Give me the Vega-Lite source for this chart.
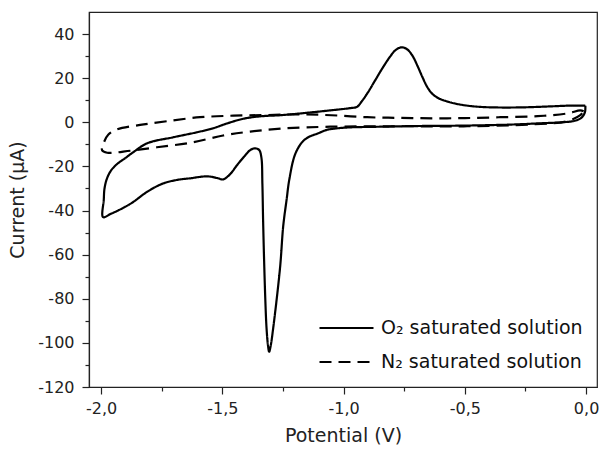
{
  "$schema": "https://vega.github.io/schema/vega-lite/v6.json",
  "width": 508,
  "height": 375,
  "autosize": "none",
  "padding": {"left": 89, "top": 12, "right": 2, "bottom": 63},
  "background": "white",
  "config": {
    "font": "DejaVu Sans",
    "view": {"stroke": "#222", "strokeWidth": 1.2},
    "axis": {"domainColor": "#222", "tickColor": "#222", "labelColor": "#222", "titleColor": "#222", "grid": false, "labelFontSize": 16, "titleFontSize": 19, "titleFontWeight": "normal", "domainWidth": 1.2, "tickWidth": 1.2}
  },
  "datasets": {
    "cv": [
      {"s": "O₂ saturated solution", "i": 1, "E": -0.003, "I": 7.5},
      {"s": "O₂ saturated solution", "i": 2, "E": -0.05, "I": 7.6},
      {"s": "O₂ saturated solution", "i": 3, "E": -0.15, "I": 7.2},
      {"s": "O₂ saturated solution", "i": 4, "E": -0.25, "I": 6.8},
      {"s": "O₂ saturated solution", "i": 5, "E": -0.35, "I": 6.7},
      {"s": "O₂ saturated solution", "i": 6, "E": -0.44, "I": 7.0},
      {"s": "O₂ saturated solution", "i": 7, "E": -0.5, "I": 7.7},
      {"s": "O₂ saturated solution", "i": 8, "E": -0.54, "I": 8.5},
      {"s": "O₂ saturated solution", "i": 9, "E": -0.58, "I": 9.7},
      {"s": "O₂ saturated solution", "i": 10, "E": -0.61, "I": 11.0},
      {"s": "O₂ saturated solution", "i": 11, "E": -0.635, "I": 13.0},
      {"s": "O₂ saturated solution", "i": 12, "E": -0.655, "I": 16.0},
      {"s": "O₂ saturated solution", "i": 13, "E": -0.675, "I": 20.5},
      {"s": "O₂ saturated solution", "i": 14, "E": -0.695, "I": 25.5},
      {"s": "O₂ saturated solution", "i": 15, "E": -0.715, "I": 30.0},
      {"s": "O₂ saturated solution", "i": 16, "E": -0.737, "I": 33.0},
      {"s": "O₂ saturated solution", "i": 17, "E": -0.76, "I": 34.0},
      {"s": "O₂ saturated solution", "i": 18, "E": -0.785, "I": 32.8},
      {"s": "O₂ saturated solution", "i": 19, "E": -0.81, "I": 29.5},
      {"s": "O₂ saturated solution", "i": 20, "E": -0.84, "I": 24.5},
      {"s": "O₂ saturated solution", "i": 21, "E": -0.87, "I": 19.0},
      {"s": "O₂ saturated solution", "i": 22, "E": -0.9, "I": 13.5},
      {"s": "O₂ saturated solution", "i": 23, "E": -0.925, "I": 9.5},
      {"s": "O₂ saturated solution", "i": 24, "E": -0.945, "I": 7.0},
      {"s": "O₂ saturated solution", "i": 25, "E": -0.975, "I": 6.4},
      {"s": "O₂ saturated solution", "i": 26, "E": -1.055, "I": 5.4},
      {"s": "O₂ saturated solution", "i": 27, "E": -1.179, "I": 4.0},
      {"s": "O₂ saturated solution", "i": 28, "E": -1.262, "I": 3.2},
      {"s": "O₂ saturated solution", "i": 29, "E": -1.344, "I": 2.7},
      {"s": "O₂ saturated solution", "i": 30, "E": -1.414, "I": 1.6},
      {"s": "O₂ saturated solution", "i": 31, "E": -1.48, "I": -0.5},
      {"s": "O₂ saturated solution", "i": 32, "E": -1.538, "I": -2.7},
      {"s": "O₂ saturated solution", "i": 33, "E": -1.604, "I": -4.5},
      {"s": "O₂ saturated solution", "i": 34, "E": -1.703, "I": -6.8},
      {"s": "O₂ saturated solution", "i": 35, "E": -1.81, "I": -9.5},
      {"s": "O₂ saturated solution", "i": 36, "E": -1.868, "I": -13.6},
      {"s": "O₂ saturated solution", "i": 37, "E": -1.9, "I": -16.2},
      {"s": "O₂ saturated solution", "i": 38, "E": -1.935, "I": -19.0},
      {"s": "O₂ saturated solution", "i": 39, "E": -1.96, "I": -22.0},
      {"s": "O₂ saturated solution", "i": 40, "E": -1.976, "I": -25.5},
      {"s": "O₂ saturated solution", "i": 41, "E": -1.986, "I": -30.0},
      {"s": "O₂ saturated solution", "i": 42, "E": -1.989, "I": -35.0},
      {"s": "O₂ saturated solution", "i": 43, "E": -1.992, "I": -43.0},
      {"s": "O₂ saturated solution", "i": 44, "E": -1.96, "I": -41.5},
      {"s": "O₂ saturated solution", "i": 45, "E": -1.909, "I": -38.8},
      {"s": "O₂ saturated solution", "i": 46, "E": -1.87, "I": -36.3},
      {"s": "O₂ saturated solution", "i": 47, "E": -1.81, "I": -31.5},
      {"s": "O₂ saturated solution", "i": 48, "E": -1.744, "I": -27.7},
      {"s": "O₂ saturated solution", "i": 49, "E": -1.68, "I": -26.0},
      {"s": "O₂ saturated solution", "i": 50, "E": -1.633, "I": -25.4},
      {"s": "O₂ saturated solution", "i": 51, "E": -1.563, "I": -24.5},
      {"s": "O₂ saturated solution", "i": 52, "E": -1.52, "I": -25.3},
      {"s": "O₂ saturated solution", "i": 53, "E": -1.497, "I": -25.9},
      {"s": "O₂ saturated solution", "i": 54, "E": -1.468, "I": -23.5},
      {"s": "O₂ saturated solution", "i": 55, "E": -1.44, "I": -19.5},
      {"s": "O₂ saturated solution", "i": 56, "E": -1.41, "I": -15.5},
      {"s": "O₂ saturated solution", "i": 57, "E": -1.385, "I": -12.6},
      {"s": "O₂ saturated solution", "i": 58, "E": -1.365, "I": -11.8},
      {"s": "O₂ saturated solution", "i": 59, "E": -1.348, "I": -12.6},
      {"s": "O₂ saturated solution", "i": 60, "E": -1.339, "I": -16.0},
      {"s": "O₂ saturated solution", "i": 61, "E": -1.335, "I": -27.7},
      {"s": "O₂ saturated solution", "i": 62, "E": -1.332, "I": -44.4},
      {"s": "O₂ saturated solution", "i": 63, "E": -1.328, "I": -62.0},
      {"s": "O₂ saturated solution", "i": 64, "E": -1.323, "I": -80.0},
      {"s": "O₂ saturated solution", "i": 65, "E": -1.318, "I": -93.0},
      {"s": "O₂ saturated solution", "i": 66, "E": -1.312, "I": -101.0},
      {"s": "O₂ saturated solution", "i": 67, "E": -1.307, "I": -104.0},
      {"s": "O₂ saturated solution", "i": 68, "E": -1.301, "I": -101.5},
      {"s": "O₂ saturated solution", "i": 69, "E": -1.29, "I": -93.0},
      {"s": "O₂ saturated solution", "i": 70, "E": -1.262, "I": -65.8},
      {"s": "O₂ saturated solution", "i": 71, "E": -1.249, "I": -47.0},
      {"s": "O₂ saturated solution", "i": 72, "E": -1.235, "I": -35.0},
      {"s": "O₂ saturated solution", "i": 73, "E": -1.224, "I": -26.0},
      {"s": "O₂ saturated solution", "i": 74, "E": -1.2, "I": -14.5},
      {"s": "O₂ saturated solution", "i": 75, "E": -1.171, "I": -9.0},
      {"s": "O₂ saturated solution", "i": 76, "E": -1.146, "I": -6.8},
      {"s": "O₂ saturated solution", "i": 77, "E": -1.105, "I": -5.0},
      {"s": "O₂ saturated solution", "i": 78, "E": -1.068, "I": -3.4},
      {"s": "O₂ saturated solution", "i": 79, "E": -1.014, "I": -2.6},
      {"s": "O₂ saturated solution", "i": 80, "E": -0.973, "I": -2.3},
      {"s": "O₂ saturated solution", "i": 81, "E": -0.85, "I": -2.0},
      {"s": "O₂ saturated solution", "i": 82, "E": -0.7, "I": -1.7},
      {"s": "O₂ saturated solution", "i": 83, "E": -0.5, "I": -1.5},
      {"s": "O₂ saturated solution", "i": 84, "E": -0.3, "I": -1.0},
      {"s": "O₂ saturated solution", "i": 85, "E": -0.2, "I": -0.5},
      {"s": "O₂ saturated solution", "i": 86, "E": -0.1, "I": 0.0},
      {"s": "O₂ saturated solution", "i": 87, "E": -0.05, "I": 0.6},
      {"s": "O₂ saturated solution", "i": 88, "E": -0.02, "I": 2.0},
      {"s": "O₂ saturated solution", "i": 89, "E": -0.005, "I": 4.5},
      {"s": "O₂ saturated solution", "i": 90, "E": -0.003, "I": 7.5},
      {"s": "N₂ saturated solution", "i": 1, "E": -0.01, "I": 5.0},
      {"s": "N₂ saturated solution", "i": 2, "E": -0.024, "I": 5.4},
      {"s": "N₂ saturated solution", "i": 3, "E": -0.078, "I": 4.0},
      {"s": "N₂ saturated solution", "i": 4, "E": -0.2, "I": 2.8},
      {"s": "N₂ saturated solution", "i": 5, "E": -0.354, "I": 2.3},
      {"s": "N₂ saturated solution", "i": 6, "E": -0.5, "I": 1.9},
      {"s": "N₂ saturated solution", "i": 7, "E": -0.63, "I": 1.8},
      {"s": "N₂ saturated solution", "i": 8, "E": -0.767, "I": 2.0},
      {"s": "N₂ saturated solution", "i": 9, "E": -0.903, "I": 2.3},
      {"s": "N₂ saturated solution", "i": 10, "E": -1.05, "I": 3.2},
      {"s": "N₂ saturated solution", "i": 11, "E": -1.179, "I": 3.6},
      {"s": "N₂ saturated solution", "i": 12, "E": -1.315, "I": 3.3},
      {"s": "N₂ saturated solution", "i": 13, "E": -1.455, "I": 3.0},
      {"s": "N₂ saturated solution", "i": 14, "E": -1.592, "I": 2.3},
      {"s": "N₂ saturated solution", "i": 15, "E": -1.728, "I": 0.5},
      {"s": "N₂ saturated solution", "i": 16, "E": -1.839, "I": -1.2},
      {"s": "N₂ saturated solution", "i": 17, "E": -1.934, "I": -3.2},
      {"s": "N₂ saturated solution", "i": 18, "E": -1.97, "I": -5.5},
      {"s": "N₂ saturated solution", "i": 19, "E": -1.986, "I": -8.5},
      {"s": "N₂ saturated solution", "i": 20, "E": -1.996, "I": -12.7},
      {"s": "N₂ saturated solution", "i": 21, "E": -1.975, "I": -13.8},
      {"s": "N₂ saturated solution", "i": 22, "E": -1.88, "I": -12.9},
      {"s": "N₂ saturated solution", "i": 23, "E": -1.77, "I": -11.3},
      {"s": "N₂ saturated solution", "i": 24, "E": -1.633, "I": -9.3},
      {"s": "N₂ saturated solution", "i": 25, "E": -1.497, "I": -6.0},
      {"s": "N₂ saturated solution", "i": 26, "E": -1.385, "I": -4.2},
      {"s": "N₂ saturated solution", "i": 27, "E": -1.249, "I": -2.8},
      {"s": "N₂ saturated solution", "i": 28, "E": -1.055, "I": -2.0},
      {"s": "N₂ saturated solution", "i": 29, "E": -0.767, "I": -1.8},
      {"s": "N₂ saturated solution", "i": 30, "E": -0.49, "I": -1.8},
      {"s": "N₂ saturated solution", "i": 31, "E": -0.218, "I": -0.9},
      {"s": "N₂ saturated solution", "i": 32, "E": -0.078, "I": 0.5},
      {"s": "N₂ saturated solution", "i": 33, "E": -0.024, "I": 3.2},
      {"s": "N₂ saturated solution", "i": 34, "E": -0.01, "I": 5.0}
    ]
  },
  "data": {"name": "cv"},
  "layer": [
    {
      "mark": {"type": "line", "interpolate": "catmull-rom", "strokeWidth": 2.2, "color": "black", "clip": true},
      "encoding": {
        "x": {"field": "E", "type": "quantitative", "scale": {"domain": [-2.05, 0.045], "nice": false, "zero": false},
          "axis": {"orient": "bottom", "title": "Potential (V)", "values": [-2.0, -1.5, -1.0, -0.5, 0.0], "tickSize": 7, "labelPadding": 6, "titlePadding": 10,
            "labelExpr": "replace(replace(format(datum.value, '.1f'), '.', ','), '−', '-')"}},
        "y": {"field": "I", "type": "quantitative", "scale": {"domain": [-120, 50], "nice": false, "zero": false},
          "axis": {"orient": "left", "title": "Current (μA)", "values": [-120, -100, -80, -60, -40, -20, 0, 20, 40], "tickSize": 7, "labelPadding": 8, "titlePadding": 10,
            "labelExpr": "toString(datum.value)"}},
        "order": {"field": "i", "type": "quantitative"},
        "strokeDash": {"field": "s", "type": "nominal",
          "scale": {"domain": ["O₂ saturated solution", "N₂ saturated solution"], "range": [[1, 0], [12, 7]]},
          "legend": {"orient": "none", "legendX": 229, "legendY": 301, "title": null, "symbolType": "stroke", "symbolSize": 2916, "symbolStrokeWidth": 2.2, "symbolStrokeColor": "black", "labelFontSize": 19, "labelColor": "#111", "labelOffset": 6, "labelLimit": 0, "clipHeight": 30, "rowPadding": 4}}
      }
    },
    {
      "mark": {"type": "line", "opacity": 0},
      "encoding": {
        "x": {"field": "E", "type": "quantitative",
          "axis": {"orient": "bottom", "title": null, "values": [-1.75, -1.25, -0.75, -0.25], "tickSize": 4, "labels": false, "domain": false}},
        "y": {"field": "I", "type": "quantitative",
          "axis": {"orient": "left", "title": null, "values": [-110, -90, -70, -50, -30, -10, 10, 30], "tickSize": 4, "labels": false, "domain": false}},
        "order": {"field": "i", "type": "quantitative"},
        "detail": {"field": "s", "type": "nominal"}
      }
    }
  ],
  "resolve": {"axis": {"x": "independent", "y": "independent"}}
}
